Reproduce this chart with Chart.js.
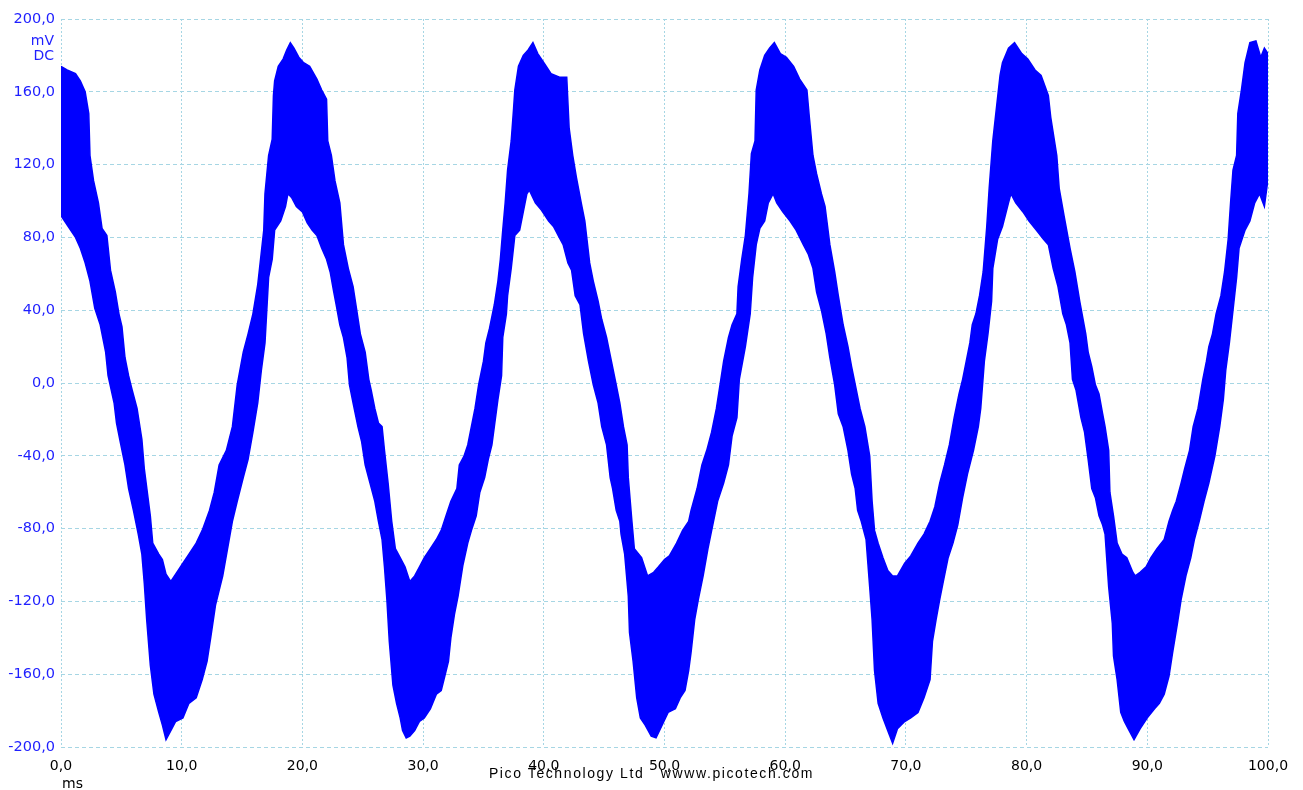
<!DOCTYPE html>
<html>
<head>
<meta charset="UTF-8" />
<title>Pico scope trace</title>
<script src="https://cdn.jsdelivr.net/npm/chart.js@4"></script>
<style>
  body { margin: 0; background: #fff; }
  #wrap { position: relative; width: 1303px; height: 790px; }
  canvas { display: block; }
  .lbl { position: absolute; font-family: 'DejaVu Sans', sans-serif; font-size: 14px; white-space: pre; line-height: 1; }
  .blue { color: #1f1fff; }
</style>
</head>
<body>
<div id="wrap">
  <canvas id="scope" width="1303" height="790"></canvas>
  <div class="lbl blue" style="right:1249px; top:33px;">mV</div>
  <div class="lbl blue" style="right:1249px; top:48px;">DC</div>
  <div class="lbl" style="left:62px; top:776px;">ms</div>
  <div class="lbl" id="footer" style="left:0; width:1303px; text-align:center; top:766px; font-family:'Liberation Sans', Arial, sans-serif; font-size:14px; letter-spacing:1.6px;">Pico Technology Ltd   wwww.picotech.com</div>
</div>
<script>
// y tick labels bottom to top, x tick labels left to right
const yTickLabels = ['-200,0', '-160,0', '-120,0', '-80,0', '-40,0', '0,0', '40,0', '80,0', '120,0', '160,0', '200,0']
const xTickLabels = ['0,0', '10,0', '20,0', '30,0', '40,0', '50,0', '60,0', '70,0', '80,0', '90,0', '100,0']

// upper edge of the trace band (ms, mV)
const upperMs = [0, 0.5, 1.2, 1.6, 2.0, 2.3, 2.4, 2.7, 3.1, 3.4, 3.8, 4.1, 4.5, 4.8, 5.05, 5.3, 5.6, 5.9, 6.3, 6.7, 6.9, 7.4, 7.6, 8.1, 8.4, 8.7, 9.1, 9.5, 10.1, 10.6, 11.2, 11.7, 12.3, 12.7, 13.1, 13.7, 14.2, 14.6, 15.1, 15.5, 15.9, 16.3,
  16.8, 16.9, 17.2, 17.5, 17.6, 17.7, 18.0, 18.4, 18.7, 19.0, 19.3, 19.7, 20.1, 20.6, 21.2, 21.6, 22.0, 22.1, 22.4, 22.7, 23.1, 23.4, 23.8, 24.2, 24.5, 24.8, 25.2, 25.5, 25.7, 26.0, 26.3, 26.6, 26.8, 27.1, 27.4, 27.7, 28.1, 28.5, 28.9, 29.3, 29.7, 30.1, 30.6, 31.1, 31.5, 31.9, 32.3, 32.8, 33.0, 33.4,
  33.7, 34.0, 34.3, 34.6, 35.0, 35.2, 35.5, 35.9, 36.2, 36.4, 36.6, 36.8, 37.0, 37.3, 37.5, 37.6, 37.9, 38.3, 38.7, 39.1, 39.5, 40.1, 40.6, 41.3, 41.9, 42.1, 42.4, 42.7, 43.1, 43.4, 43.8, 44.1, 44.5, 44.8, 45.2, 45.6, 46.0, 46.3, 46.6, 46.9, 47.0, 47.3, 47.5, 48.1, 48.6, 49.1, 49.5, 50.0, 50.4,
  51.0, 51.5, 52.0, 52.2, 52.7, 53.1, 53.5, 53.9, 54.3, 54.6, 54.9, 55.3, 55.6, 56.0, 56.1, 56.4, 56.7, 57.0, 57.2, 57.5, 57.6, 57.9, 58.3, 58.7, 59.1, 59.6, 60.1, 60.7, 61.2, 61.8, 62.0, 62.3, 62.6, 63.0, 63.3, 63.7, 64.1, 64.4, 64.8, 65.2, 65.5, 65.9, 66.2, 66.6, 67.0, 67.2, 67.4, 67.7,
  68.1, 68.5, 68.9, 69.3, 69.9, 70.4, 71.0, 71.5, 72.0, 72.4, 72.8, 73.2, 73.6, 74.0, 74.4, 74.7, 75.0, 75.3, 75.5, 75.8, 76.1, 76.4, 76.7, 76.9, 77.2, 77.5, 77.8, 78.0, 78.5, 79.0, 79.6, 80.1, 80.7, 81.2, 81.8, 82.0, 82.5, 82.7, 83.1, 83.6,
  84.0, 84.4, 84.9, 85.1, 85.4, 85.7, 86.0, 86.3, 86.5, 86.8, 86.9, 87.2, 87.5, 87.9, 88.3, 88.8, 89.0, 89.4, 89.9, 90.3, 90.8, 91.4, 91.8, 92.1, 92.4, 92.8, 93.1, 93.5, 93.8, 94.2, 94.6, 94.9, 95.1, 95.4, 95.7, 96.1, 96.4, 96.7, 96.9, 97.1, 97.4, 97.5, 97.8, 98.1, 98.5, 99.0, 99.4, 99.7, 100]
const upperMv = [174, 172, 170, 166, 160, 148, 125, 111, 99, 85, 81, 62, 50, 38, 31, 14, 4, -4, -14, -31, -47, -73, -88, -94, -97, -105, -109, -105, -99, -94, -88, -81, -70, -60, -45, -37, -24, -1, 17, 27, 38, 54,
  84, 104, 125, 134, 158, 166, 174, 178, 183, 187, 184, 179, 176, 174, 167, 161, 156, 133, 125, 111, 99, 76, 63, 53, 40, 27, 17, 2, -4, -14, -22, -24, -37, -55, -76, -91, -96, -101, -109, -106, -101, -96, -91, -86, -81, -73, -65, -58, -45, -40,
  -34, -24, -14, -1, 12, 22, 30, 43, 56, 68, 84, 99, 117, 133, 151, 161, 174, 180, 183, 187, 181, 175, 170, 168, 168, 140, 125, 113, 99, 89, 66, 56, 45, 35, 25, 12, -1, -11, -24, -34, -52, -76, -91, -96, -106, -104, -101, -97, -95,
  -88, -81, -76, -70, -58, -45, -37, -27, -14, -1, 12, 25, 32, 38, 53, 68, 81, 104, 126, 133, 161, 172, 180, 184, 187, 181, 179, 174, 167, 161, 146, 125, 115, 104, 97, 76, 61, 48, 32, 20, 9, -4, -14, -24, -40, -65, -81, -88,
  -96, -103, -106, -106, -99, -95, -88, -83, -76, -68, -55, -45, -34, -19, -6, 2, 12, 22, 32, 38, 48, 61, 86, 107, 133, 151, 169, 176, 184, 187, 181, 178, 172, 169, 158, 146, 125, 107, 92, 74,
  61, 45, 27, 17, 9, -1, -6, -17, -24, -37, -60, -73, -88, -94, -96, -104, -106, -104, -101, -96, -91, -86, -76, -70, -65, -55, -47, -37, -24, -14, 2, 12, 20, 27, 38, 48, 61, 79, 99, 117, 125, 148, 161, 176, 187, 188, 179, 184, 181]

// lower edge of the trace band (ms, mV)
const lowerMs = [0, 0.6, 1.2, 1.6, 2.0, 2.4, 2.8, 3.25, 3.7, 3.9, 4.4, 4.6, 4.9, 5.3, 5.6, 6.0, 6.4, 6.7, 6.9, 7.1, 7.4, 7.7, 8.1, 8.4, 8.7, 9.1, 9.5, 10.1, 10.6, 11.2, 11.7, 12.1, 12.4, 12.8, 13.4, 13.8, 14.2, 14.6, 15.1, 15.5, 15.9, 16.3,
  16.6, 16.9, 17.2, 17.5, 17.7, 18.2, 18.6, 18.8, 19.1, 19.5, 20.0, 20.4, 20.8, 21.2, 21.6, 22.0, 22.3, 22.6, 22.8, 23.1, 23.4, 23.7, 23.9, 24.2, 24.6, 24.9, 25.2, 25.6, 26.0, 26.3, 26.6, 26.8, 27.0, 27.2, 27.5, 27.8, 28.1, 28.3, 28.6, 28.9, 29.3, 29.7, 30.1, 30.6, 31.1, 31.5, 31.8, 32.1, 32.3, 32.6, 32.9, 33.3,
  33.7, 34.0, 34.4, 34.7, 35.1, 35.4, 35.7, 35.9, 36.2, 36.5, 36.6, 36.9, 37.0, 37.3, 37.6, 38.0, 38.3, 38.6, 38.8, 39.3, 39.8, 40.4, 40.8, 41.2, 41.6, 42.0, 42.3, 42.6, 43.0, 43.3, 43.7, 44.1, 44.5, 44.8, 45.2, 45.5, 45.7, 46.0, 46.3, 46.4, 46.7, 47.0, 47.1, 47.4, 47.7, 48.0, 48.4, 48.9, 49.3, 49.8, 50.3, 50.9,
  51.3, 51.7, 52.0, 52.2, 52.5, 52.8, 53.2, 53.6, 54.0, 54.4, 54.9, 55.3, 55.6, 56.0, 56.2, 56.7, 57.1, 57.3, 57.6, 57.9, 58.3, 58.6, 59.0, 59.3, 59.8, 60.4, 60.9, 61.5, 61.9, 62.3, 62.6, 63.0, 63.4, 63.7, 64.1, 64.4, 64.8, 65.2, 65.5, 65.8, 66.0, 66.3, 66.7, 67.0, 67.2, 67.4, 67.7,
  68.1, 68.5, 68.9, 69.3, 69.9, 70.4, 71.0, 71.5, 72.0, 72.2, 72.5, 72.8, 73.1, 73.5, 73.9, 74.3, 74.7, 75.1, 75.6, 76.0, 76.2, 76.5, 76.8, 77.1, 77.2, 77.6, 78.0, 78.5, 78.7, 79.1, 79.7, 80.2, 80.8, 81.4, 81.8, 82.2, 82.6, 83.0, 83.3, 83.6, 83.8, 84.1, 84.5, 84.8,
  85.1, 85.4, 85.7, 86.0, 86.3, 86.5, 86.8, 87.1, 87.2, 87.5, 87.8, 88.1, 88.5, 88.9, 89.4, 90.0, 90.6, 91.0, 91.4, 91.8, 92.1, 92.5, 92.8, 93.2, 93.6, 93.9, 94.3, 94.7, 95.1, 95.6, 96.0, 96.3, 96.5, 96.8, 97.1, 97.4, 97.6, 98.1, 98.5, 98.9, 99.3, 99.7, 100]
const lowerMv = [92, 86, 80, 74, 66, 56, 41, 32, 17, 4, -11, -22, -32, -45, -58, -70, -83, -94, -110, -130, -155, -171, -181, -188, -196, -191, -186, -184, -176, -173, -163, -153, -140, -122, -106, -91, -76, -65, -52, -42, -27, -11,
  7, 22, 58, 68, 84, 89, 97, 104, 102, 97, 94, 88, 84, 81, 74, 68, 61, 50, 43, 32, 25, 14, -1, -11, -24, -32, -45, -55, -65, -76, -86, -101, -119, -142, -166, -176, -184, -191, -195, -194, -191, -186, -184, -179, -171, -169, -161, -153, -140, -127, -117, -100,
  -88, -81, -73, -60, -52, -42, -34, -24, -9, 4, 25, 38, 48, 63, 81, 84, 94, 104, 106, 99, 95, 89, 86, 81, 76, 66, 62, 48, 43, 27, 12, -1, -11, -24, -34, -52, -58, -70, -76, -83, -94, -117, -137, -153, -173, -184, -188, -194, -195, -188, -181, -179,
  -173, -169, -158, -148, -130, -119, -106, -91, -78, -65, -55, -45, -29, -19, 2, 20, 38, 58, 76, 85, 89, 99, 104, 99, 94, 89, 84, 76, 71, 63, 50, 40, 27, 14, -1, -17, -24, -37, -50, -58, -70, -76, -86, -112, -130, -158, -176,
  -184, -191, -198, -190, -186, -184, -181, -173, -163, -142, -130, -119, -109, -96, -88, -78, -63, -50, -37, -24, -14, 12, 27, 45, 63, 79, 86, 99, 104, 99, 94, 89, 84, 79, 76, 63, 53, 38, 32, 22, 2, -4, -19, -27,
  -42, -58, -63, -73, -78, -83, -112, -132, -150, -163, -181, -186, -191, -196, -190, -184, -179, -176, -171, -161, -148, -132, -119, -106, -96, -86, -76, -65, -55, -40, -24, -9, 7, 22, 40, 58, 74, 84, 89, 99, 104, 97, 112]

const traceBlue = '#0000ff'
const gridBlue = '#a6d6e4'

const pairs = (xs, ys) => xs.map((x, i) => ({ x: x, y: ys[i] }))

new Chart(document.getElementById('scope').getContext('2d'), {
  type: 'line',
  data: {
    datasets: [
      {
        label: 'upper',
        data: pairs(upperMs, upperMv),
        borderColor: traceBlue,
        backgroundColor: traceBlue,
        borderWidth: 1.5,
        pointRadius: 0,
        tension: 0,
        fill: '+1'
      },
      {
        label: 'lower',
        data: pairs(lowerMs, lowerMv),
        borderColor: traceBlue,
        backgroundColor: traceBlue,
        borderWidth: 1.5,
        pointRadius: 0,
        tension: 0,
        fill: false
      }
    ]
  },
  options: {
    responsive: false,
    animation: false,
    layout: { padding: { top: 19, right: 35, bottom: 0, left: 0 } },
    plugins: { legend: { display: false }, tooltip: { enabled: false } },
    scales: {
      x: {
        type: 'linear',
        min: 0,
        max: 100,
        afterFit: (s) => { s.height = 43 },
        ticks: {
          stepSize: 10,
          padding: 11,
          maxRotation: 0,
          color: '#000',
          font: { family: 'DejaVu Sans', size: 14 },
          callback: (v, i) => xTickLabels[i]
        },
        grid: { color: gridBlue, lineWidth: 1, drawTicks: false },
        border: { display: false, dash: [2, 2] }
      },
      y: {
        type: 'linear',
        min: -200,
        max: 200,
        afterFit: (s) => { s.width = 61 },
        ticks: {
          stepSize: 40,
          padding: 6,
          color: '#1f1fff',
          font: { family: 'DejaVu Sans', size: 14.5 },
          callback: (v, i) => yTickLabels[i]
        },
        grid: { color: gridBlue, lineWidth: 1, drawTicks: false },
        border: { display: false, dash: [4, 3] }
      }
    }
  }
})
</script>
</body>
</html>
